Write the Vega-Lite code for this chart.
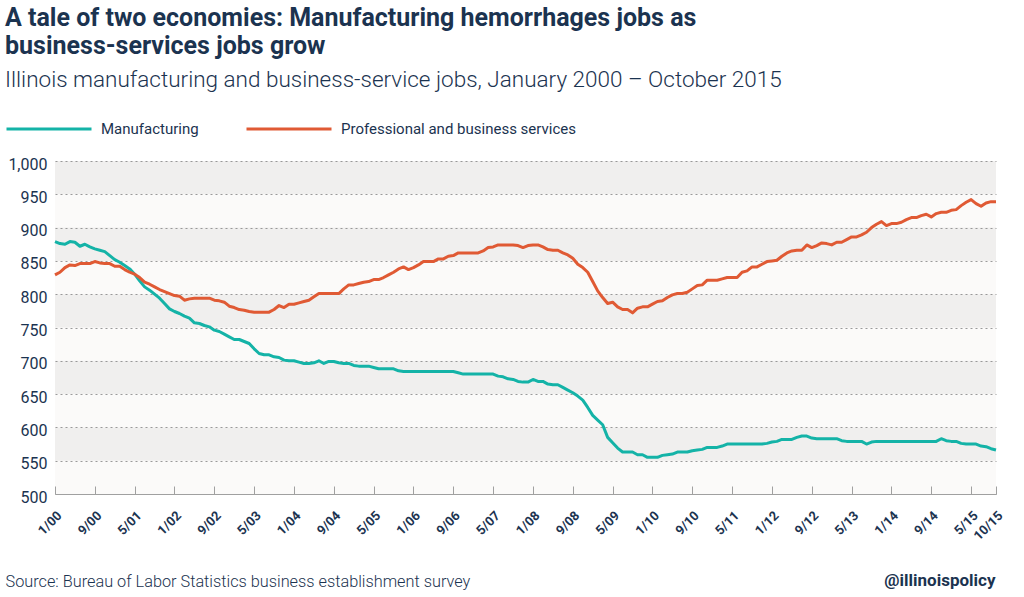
{
"$schema": "https://vega.github.io/schema/vega-lite/v6.json",
"width": 941, "height": 333,
"autosize": {"type": "none"},
"padding": {"left": 55, "top": 161, "right": 28, "bottom": 103},
"background": "#ffffff",
"config": {"view": {"stroke": null, "fill": "#fbfaf9"}, "font": "Roboto"},
"title": {
 "text": ["A tale of two economies: Manufacturing hemorrhages jobs as", "business-services jobs grow"],
 "subtitle": "Illinois manufacturing and business-service jobs, January 2000 – October 2015",
 "anchor": "start", "frame": "group", "dx": -50, "offset": -6,
 "fontSize": 25, "fontWeight": "bold", "color": "#1b3350", "lineHeight": 28,
 "subtitleFontSize": 22.5, "subtitleFontWeight": 300, "subtitleColor": "#1b3350", "subtitlePadding": 10
},
"datasets": {
 "bands": [{"b": 950, "t": 1000}, {"b": 850, "t": 900}, {"b": 750, "t": 800}, {"b": 650, "t": 700}, {"b": 550, "t": 600}],
 "jobs": [
{"m":"1/00","s":"Manufacturing","v":879},{"m":"2/00","s":"Manufacturing","v":876},{"m":"3/00","s":"Manufacturing","v":875},{"m":"4/00","s":"Manufacturing","v":879},{"m":"5/00","s":"Manufacturing","v":878},{"m":"6/00","s":"Manufacturing","v":872},{"m":"7/00","s":"Manufacturing","v":875},{"m":"8/00","s":"Manufacturing","v":871},{"m":"9/00","s":"Manufacturing","v":868},{"m":"10/00","s":"Manufacturing","v":866},{"m":"11/00","s":"Manufacturing","v":864},{"m":"12/00","s":"Manufacturing","v":858},
{"m":"1/01","s":"Manufacturing","v":852},{"m":"2/01","s":"Manufacturing","v":848},{"m":"3/01","s":"Manufacturing","v":843},{"m":"4/01","s":"Manufacturing","v":838},{"m":"5/01","s":"Manufacturing","v":830},{"m":"6/01","s":"Manufacturing","v":820},{"m":"7/01","s":"Manufacturing","v":811},{"m":"8/01","s":"Manufacturing","v":806},{"m":"9/01","s":"Manufacturing","v":800},{"m":"10/01","s":"Manufacturing","v":794},{"m":"11/01","s":"Manufacturing","v":786},{"m":"12/01","s":"Manufacturing","v":778},
{"m":"1/02","s":"Manufacturing","v":774},{"m":"2/02","s":"Manufacturing","v":771},{"m":"3/02","s":"Manufacturing","v":767},{"m":"4/02","s":"Manufacturing","v":764},{"m":"5/02","s":"Manufacturing","v":757},{"m":"6/02","s":"Manufacturing","v":756},{"m":"7/02","s":"Manufacturing","v":753},{"m":"8/02","s":"Manufacturing","v":751},{"m":"9/02","s":"Manufacturing","v":746},{"m":"10/02","s":"Manufacturing","v":744},{"m":"11/02","s":"Manufacturing","v":740},{"m":"12/02","s":"Manufacturing","v":736},
{"m":"1/03","s":"Manufacturing","v":732},{"m":"2/03","s":"Manufacturing","v":732},{"m":"3/03","s":"Manufacturing","v":729},{"m":"4/03","s":"Manufacturing","v":726},{"m":"5/03","s":"Manufacturing","v":718},{"m":"6/03","s":"Manufacturing","v":711},{"m":"7/03","s":"Manufacturing","v":709},{"m":"8/03","s":"Manufacturing","v":709},{"m":"9/03","s":"Manufacturing","v":706},{"m":"10/03","s":"Manufacturing","v":705},{"m":"11/03","s":"Manufacturing","v":701},{"m":"12/03","s":"Manufacturing","v":700},
{"m":"1/04","s":"Manufacturing","v":700},{"m":"2/04","s":"Manufacturing","v":698},{"m":"3/04","s":"Manufacturing","v":696},{"m":"4/04","s":"Manufacturing","v":696},{"m":"5/04","s":"Manufacturing","v":697},{"m":"6/04","s":"Manufacturing","v":700},{"m":"7/04","s":"Manufacturing","v":696},{"m":"8/04","s":"Manufacturing","v":699},{"m":"9/04","s":"Manufacturing","v":699},{"m":"10/04","s":"Manufacturing","v":697},{"m":"11/04","s":"Manufacturing","v":696},{"m":"12/04","s":"Manufacturing","v":696},
{"m":"1/05","s":"Manufacturing","v":693},{"m":"2/05","s":"Manufacturing","v":692},{"m":"3/05","s":"Manufacturing","v":692},{"m":"4/05","s":"Manufacturing","v":692},{"m":"5/05","s":"Manufacturing","v":690},{"m":"6/05","s":"Manufacturing","v":688},{"m":"7/05","s":"Manufacturing","v":688},{"m":"8/05","s":"Manufacturing","v":688},{"m":"9/05","s":"Manufacturing","v":688},{"m":"10/05","s":"Manufacturing","v":685},{"m":"11/05","s":"Manufacturing","v":684},{"m":"12/05","s":"Manufacturing","v":684},
{"m":"1/06","s":"Manufacturing","v":684},{"m":"2/06","s":"Manufacturing","v":684},{"m":"3/06","s":"Manufacturing","v":684},{"m":"4/06","s":"Manufacturing","v":684},{"m":"5/06","s":"Manufacturing","v":684},{"m":"6/06","s":"Manufacturing","v":684},{"m":"7/06","s":"Manufacturing","v":684},{"m":"8/06","s":"Manufacturing","v":684},{"m":"9/06","s":"Manufacturing","v":684},{"m":"10/06","s":"Manufacturing","v":682},{"m":"11/06","s":"Manufacturing","v":680},{"m":"12/06","s":"Manufacturing","v":680},
{"m":"1/07","s":"Manufacturing","v":680},{"m":"2/07","s":"Manufacturing","v":680},{"m":"3/07","s":"Manufacturing","v":680},{"m":"4/07","s":"Manufacturing","v":680},{"m":"5/07","s":"Manufacturing","v":680},{"m":"6/07","s":"Manufacturing","v":677},{"m":"7/07","s":"Manufacturing","v":676},{"m":"8/07","s":"Manufacturing","v":673},{"m":"9/07","s":"Manufacturing","v":672},{"m":"10/07","s":"Manufacturing","v":669},{"m":"11/07","s":"Manufacturing","v":668},{"m":"12/07","s":"Manufacturing","v":668},
{"m":"1/08","s":"Manufacturing","v":672},{"m":"2/08","s":"Manufacturing","v":669},{"m":"3/08","s":"Manufacturing","v":669},{"m":"4/08","s":"Manufacturing","v":665},{"m":"5/08","s":"Manufacturing","v":664},{"m":"6/08","s":"Manufacturing","v":664},{"m":"7/08","s":"Manufacturing","v":660},{"m":"8/08","s":"Manufacturing","v":656},{"m":"9/08","s":"Manufacturing","v":652},{"m":"10/08","s":"Manufacturing","v":647},{"m":"11/08","s":"Manufacturing","v":641},{"m":"12/08","s":"Manufacturing","v":630},
{"m":"1/09","s":"Manufacturing","v":618},{"m":"2/09","s":"Manufacturing","v":611},{"m":"3/09","s":"Manufacturing","v":604},{"m":"4/09","s":"Manufacturing","v":585},{"m":"5/09","s":"Manufacturing","v":577},{"m":"6/09","s":"Manufacturing","v":569},{"m":"7/09","s":"Manufacturing","v":563},{"m":"8/09","s":"Manufacturing","v":563},{"m":"9/09","s":"Manufacturing","v":563},{"m":"10/09","s":"Manufacturing","v":559},{"m":"11/09","s":"Manufacturing","v":559},{"m":"12/09","s":"Manufacturing","v":555},
{"m":"1/10","s":"Manufacturing","v":555},{"m":"2/10","s":"Manufacturing","v":555},{"m":"3/10","s":"Manufacturing","v":558},{"m":"4/10","s":"Manufacturing","v":559},{"m":"5/10","s":"Manufacturing","v":560},{"m":"6/10","s":"Manufacturing","v":563},{"m":"7/10","s":"Manufacturing","v":563},{"m":"8/10","s":"Manufacturing","v":563},{"m":"9/10","s":"Manufacturing","v":565},{"m":"10/10","s":"Manufacturing","v":566},{"m":"11/10","s":"Manufacturing","v":567},{"m":"12/10","s":"Manufacturing","v":570},
{"m":"1/11","s":"Manufacturing","v":570},{"m":"2/11","s":"Manufacturing","v":570},{"m":"3/11","s":"Manufacturing","v":572},{"m":"4/11","s":"Manufacturing","v":575},{"m":"5/11","s":"Manufacturing","v":575},{"m":"6/11","s":"Manufacturing","v":575},{"m":"7/11","s":"Manufacturing","v":575},{"m":"8/11","s":"Manufacturing","v":575},{"m":"9/11","s":"Manufacturing","v":575},{"m":"10/11","s":"Manufacturing","v":575},{"m":"11/11","s":"Manufacturing","v":575},{"m":"12/11","s":"Manufacturing","v":576},
{"m":"1/12","s":"Manufacturing","v":578},{"m":"2/12","s":"Manufacturing","v":579},{"m":"3/12","s":"Manufacturing","v":582},{"m":"4/12","s":"Manufacturing","v":582},{"m":"5/12","s":"Manufacturing","v":582},{"m":"6/12","s":"Manufacturing","v":585},{"m":"7/12","s":"Manufacturing","v":587},{"m":"8/12","s":"Manufacturing","v":587},{"m":"9/12","s":"Manufacturing","v":584},{"m":"10/12","s":"Manufacturing","v":583},{"m":"11/12","s":"Manufacturing","v":583},{"m":"12/12","s":"Manufacturing","v":583},
{"m":"1/13","s":"Manufacturing","v":583},{"m":"2/13","s":"Manufacturing","v":583},{"m":"3/13","s":"Manufacturing","v":580},{"m":"4/13","s":"Manufacturing","v":579},{"m":"5/13","s":"Manufacturing","v":579},{"m":"6/13","s":"Manufacturing","v":579},{"m":"7/13","s":"Manufacturing","v":579},{"m":"8/13","s":"Manufacturing","v":575},{"m":"9/13","s":"Manufacturing","v":578},{"m":"10/13","s":"Manufacturing","v":579},{"m":"11/13","s":"Manufacturing","v":579},{"m":"12/13","s":"Manufacturing","v":579},
{"m":"1/14","s":"Manufacturing","v":579},{"m":"2/14","s":"Manufacturing","v":579},{"m":"3/14","s":"Manufacturing","v":579},{"m":"4/14","s":"Manufacturing","v":579},{"m":"5/14","s":"Manufacturing","v":579},{"m":"6/14","s":"Manufacturing","v":579},{"m":"7/14","s":"Manufacturing","v":579},{"m":"8/14","s":"Manufacturing","v":579},{"m":"9/14","s":"Manufacturing","v":579},{"m":"10/14","s":"Manufacturing","v":579},{"m":"11/14","s":"Manufacturing","v":583},{"m":"12/14","s":"Manufacturing","v":580},
{"m":"1/15","s":"Manufacturing","v":579},{"m":"2/15","s":"Manufacturing","v":579},{"m":"3/15","s":"Manufacturing","v":576},{"m":"4/15","s":"Manufacturing","v":575},{"m":"5/15","s":"Manufacturing","v":575},{"m":"6/15","s":"Manufacturing","v":575},{"m":"7/15","s":"Manufacturing","v":572},{"m":"8/15","s":"Manufacturing","v":571},{"m":"9/15","s":"Manufacturing","v":568},{"m":"10/15","s":"Manufacturing","v":566},
{"m":"1/00","s":"Professional and business services","v":829},{"m":"2/00","s":"Professional and business services","v":833},{"m":"3/00","s":"Professional and business services","v":840},{"m":"4/00","s":"Professional and business services","v":844},{"m":"5/00","s":"Professional and business services","v":843},{"m":"6/00","s":"Professional and business services","v":846},{"m":"7/00","s":"Professional and business services","v":846},{"m":"8/00","s":"Professional and business services","v":846},{"m":"9/00","s":"Professional and business services","v":849},{"m":"10/00","s":"Professional and business services","v":847},{"m":"11/00","s":"Professional and business services","v":846},{"m":"12/00","s":"Professional and business services","v":846},
{"m":"1/01","s":"Professional and business services","v":842},{"m":"2/01","s":"Professional and business services","v":842},{"m":"3/01","s":"Professional and business services","v":837},{"m":"4/01","s":"Professional and business services","v":833},{"m":"5/01","s":"Professional and business services","v":830},{"m":"6/01","s":"Professional and business services","v":825},{"m":"7/01","s":"Professional and business services","v":818},{"m":"8/01","s":"Professional and business services","v":815},{"m":"9/01","s":"Professional and business services","v":811},{"m":"10/01","s":"Professional and business services","v":807},{"m":"11/01","s":"Professional and business services","v":804},{"m":"12/01","s":"Professional and business services","v":801},
{"m":"1/02","s":"Professional and business services","v":798},{"m":"2/02","s":"Professional and business services","v":797},{"m":"3/02","s":"Professional and business services","v":791},{"m":"4/02","s":"Professional and business services","v":793},{"m":"5/02","s":"Professional and business services","v":794},{"m":"6/02","s":"Professional and business services","v":794},{"m":"7/02","s":"Professional and business services","v":794},{"m":"8/02","s":"Professional and business services","v":794},{"m":"9/02","s":"Professional and business services","v":791},{"m":"10/02","s":"Professional and business services","v":790},{"m":"11/02","s":"Professional and business services","v":788},{"m":"12/02","s":"Professional and business services","v":782},
{"m":"1/03","s":"Professional and business services","v":780},{"m":"2/03","s":"Professional and business services","v":777},{"m":"3/03","s":"Professional and business services","v":776},{"m":"4/03","s":"Professional and business services","v":774},{"m":"5/03","s":"Professional and business services","v":773},{"m":"6/03","s":"Professional and business services","v":773},{"m":"7/03","s":"Professional and business services","v":773},{"m":"8/03","s":"Professional and business services","v":773},{"m":"9/03","s":"Professional and business services","v":777},{"m":"10/03","s":"Professional and business services","v":783},{"m":"11/03","s":"Professional and business services","v":780},{"m":"12/03","s":"Professional and business services","v":785},
{"m":"1/04","s":"Professional and business services","v":785},{"m":"2/04","s":"Professional and business services","v":787},{"m":"3/04","s":"Professional and business services","v":789},{"m":"4/04","s":"Professional and business services","v":791},{"m":"5/04","s":"Professional and business services","v":796},{"m":"6/04","s":"Professional and business services","v":801},{"m":"7/04","s":"Professional and business services","v":801},{"m":"8/04","s":"Professional and business services","v":801},{"m":"9/04","s":"Professional and business services","v":801},{"m":"10/04","s":"Professional and business services","v":801},{"m":"11/04","s":"Professional and business services","v":808},{"m":"12/04","s":"Professional and business services","v":814},
{"m":"1/05","s":"Professional and business services","v":814},{"m":"2/05","s":"Professional and business services","v":816},{"m":"3/05","s":"Professional and business services","v":818},{"m":"4/05","s":"Professional and business services","v":819},{"m":"5/05","s":"Professional and business services","v":822},{"m":"6/05","s":"Professional and business services","v":822},{"m":"7/05","s":"Professional and business services","v":825},{"m":"8/05","s":"Professional and business services","v":829},{"m":"9/05","s":"Professional and business services","v":833},{"m":"10/05","s":"Professional and business services","v":838},{"m":"11/05","s":"Professional and business services","v":841},{"m":"12/05","s":"Professional and business services","v":837},
{"m":"1/06","s":"Professional and business services","v":840},{"m":"2/06","s":"Professional and business services","v":844},{"m":"3/06","s":"Professional and business services","v":849},{"m":"4/06","s":"Professional and business services","v":849},{"m":"5/06","s":"Professional and business services","v":849},{"m":"6/06","s":"Professional and business services","v":853},{"m":"7/06","s":"Professional and business services","v":853},{"m":"8/06","s":"Professional and business services","v":857},{"m":"9/06","s":"Professional and business services","v":858},{"m":"10/06","s":"Professional and business services","v":862},{"m":"11/06","s":"Professional and business services","v":862},{"m":"12/06","s":"Professional and business services","v":862},
{"m":"1/07","s":"Professional and business services","v":862},{"m":"2/07","s":"Professional and business services","v":862},{"m":"3/07","s":"Professional and business services","v":865},{"m":"4/07","s":"Professional and business services","v":870},{"m":"5/07","s":"Professional and business services","v":871},{"m":"6/07","s":"Professional and business services","v":874},{"m":"7/07","s":"Professional and business services","v":874},{"m":"8/07","s":"Professional and business services","v":874},{"m":"9/07","s":"Professional and business services","v":874},{"m":"10/07","s":"Professional and business services","v":873},{"m":"11/07","s":"Professional and business services","v":870},{"m":"12/07","s":"Professional and business services","v":873},
{"m":"1/08","s":"Professional and business services","v":874},{"m":"2/08","s":"Professional and business services","v":874},{"m":"3/08","s":"Professional and business services","v":871},{"m":"4/08","s":"Professional and business services","v":867},{"m":"5/08","s":"Professional and business services","v":866},{"m":"6/08","s":"Professional and business services","v":866},{"m":"7/08","s":"Professional and business services","v":862},{"m":"8/08","s":"Professional and business services","v":859},{"m":"9/08","s":"Professional and business services","v":854},{"m":"10/08","s":"Professional and business services","v":845},{"m":"11/08","s":"Professional and business services","v":840},{"m":"12/08","s":"Professional and business services","v":833},
{"m":"1/09","s":"Professional and business services","v":819},{"m":"2/09","s":"Professional and business services","v":805},{"m":"3/09","s":"Professional and business services","v":795},{"m":"4/09","s":"Professional and business services","v":786},{"m":"5/09","s":"Professional and business services","v":788},{"m":"6/09","s":"Professional and business services","v":781},{"m":"7/09","s":"Professional and business services","v":777},{"m":"8/09","s":"Professional and business services","v":777},{"m":"9/09","s":"Professional and business services","v":772},{"m":"10/09","s":"Professional and business services","v":779},{"m":"11/09","s":"Professional and business services","v":781},{"m":"12/09","s":"Professional and business services","v":781},
{"m":"1/10","s":"Professional and business services","v":785},{"m":"2/10","s":"Professional and business services","v":789},{"m":"3/10","s":"Professional and business services","v":790},{"m":"4/10","s":"Professional and business services","v":795},{"m":"5/10","s":"Professional and business services","v":799},{"m":"6/10","s":"Professional and business services","v":801},{"m":"7/10","s":"Professional and business services","v":801},{"m":"8/10","s":"Professional and business services","v":803},{"m":"9/10","s":"Professional and business services","v":808},{"m":"10/10","s":"Professional and business services","v":813},{"m":"11/10","s":"Professional and business services","v":814},{"m":"12/10","s":"Professional and business services","v":821},
{"m":"1/11","s":"Professional and business services","v":821},{"m":"2/11","s":"Professional and business services","v":821},{"m":"3/11","s":"Professional and business services","v":823},{"m":"4/11","s":"Professional and business services","v":825},{"m":"5/11","s":"Professional and business services","v":825},{"m":"6/11","s":"Professional and business services","v":825},{"m":"7/11","s":"Professional and business services","v":833},{"m":"8/11","s":"Professional and business services","v":835},{"m":"9/11","s":"Professional and business services","v":841},{"m":"10/11","s":"Professional and business services","v":841},{"m":"11/11","s":"Professional and business services","v":845},{"m":"12/11","s":"Professional and business services","v":849},
{"m":"1/12","s":"Professional and business services","v":850},{"m":"2/12","s":"Professional and business services","v":851},{"m":"3/12","s":"Professional and business services","v":857},{"m":"4/12","s":"Professional and business services","v":862},{"m":"5/12","s":"Professional and business services","v":865},{"m":"6/12","s":"Professional and business services","v":866},{"m":"7/12","s":"Professional and business services","v":866},{"m":"8/12","s":"Professional and business services","v":874},{"m":"9/12","s":"Professional and business services","v":870},{"m":"10/12","s":"Professional and business services","v":873},{"m":"11/12","s":"Professional and business services","v":877},{"m":"12/12","s":"Professional and business services","v":876},
{"m":"1/13","s":"Professional and business services","v":874},{"m":"2/13","s":"Professional and business services","v":878},{"m":"3/13","s":"Professional and business services","v":878},{"m":"4/13","s":"Professional and business services","v":882},{"m":"5/13","s":"Professional and business services","v":886},{"m":"6/13","s":"Professional and business services","v":886},{"m":"7/13","s":"Professional and business services","v":889},{"m":"8/13","s":"Professional and business services","v":893},{"m":"9/13","s":"Professional and business services","v":900},{"m":"10/13","s":"Professional and business services","v":905},{"m":"11/13","s":"Professional and business services","v":909},{"m":"12/13","s":"Professional and business services","v":903},
{"m":"1/14","s":"Professional and business services","v":906},{"m":"2/14","s":"Professional and business services","v":906},{"m":"3/14","s":"Professional and business services","v":908},{"m":"4/14","s":"Professional and business services","v":912},{"m":"5/14","s":"Professional and business services","v":915},{"m":"6/14","s":"Professional and business services","v":915},{"m":"7/14","s":"Professional and business services","v":918},{"m":"8/14","s":"Professional and business services","v":920},{"m":"9/14","s":"Professional and business services","v":916},{"m":"10/14","s":"Professional and business services","v":921},{"m":"11/14","s":"Professional and business services","v":923},{"m":"12/14","s":"Professional and business services","v":923},
{"m":"1/15","s":"Professional and business services","v":926},{"m":"2/15","s":"Professional and business services","v":927},{"m":"3/15","s":"Professional and business services","v":933},{"m":"4/15","s":"Professional and business services","v":938},{"m":"5/15","s":"Professional and business services","v":942},{"m":"6/15","s":"Professional and business services","v":936},{"m":"7/15","s":"Professional and business services","v":932},{"m":"8/15","s":"Professional and business services","v":937},{"m":"9/15","s":"Professional and business services","v":939},{"m":"10/15","s":"Professional and business services","v":939}
 ]
},
"layer": [
 {
  "data": {"name": "bands"},
  "mark": {"type": "rect", "fill": "#808080", "opacity": 0.09},
  "encoding": {
   "y": {"field": "b", "type": "quantitative", "scale": {"domain": [500, 1000], "nice": false, "zero": false},
    "axis": {
     "values": [500,550,600,650,700,750,800,850,900,950,1000],
     "labelExpr": "format(datum.value, ',')", "domain": false, "ticks": false,
     "labelFontSize": 16, "labelColor": "#1b3350", "labelPadding": 8, "labelOffset": 3,
     "gridColor": "#9a9a9a", "gridDash": [2, 3], "gridWidth": 1,
     "title": "@illinoispolicy", "titleAngle": 0, "titleX": 940, "titleY": 424,
     "titleAlign": "right", "titleBaseline": "alphabetic",
     "titleFontSize": 17, "titleFontWeight": "bold", "titleColor": "#1b3350"
    }
   },
   "y2": {"field": "t"}
  }
 },
 {
  "data": {"name": "jobs"},
  "mark": {"type": "line", "strokeWidth": 3, "strokeJoin": "round"},
  "encoding": {
   "x": {"field": "m", "type": "ordinal", "sort": null,
    "scale": {"type": "point", "padding": 0},
    "axis": {
     "values": ["1/00","9/00","5/01","1/02","9/02","5/03","1/04","9/04","5/05","1/06","9/06","5/07","1/08","9/08","5/09","1/10","9/10","5/11","1/12","9/12","5/13","1/14","9/14","5/15","10/15"],
     "labelAngle": -45, "labelFontSize": 13, "labelFontWeight": "bold", "labelColor": "#1b3350",
     "labelPadding": 23, "tickColor": "#a0a0a0", "tickSize": -8, "domainColor": "#a0a0a0", "grid": false,
     "title": "Source: Bureau of Labor Statistics business establishment survey",
     "titleX": -50, "titleY": 92, "titleAlign": "left", "titleAnchor": "start", "titleBaseline": "alphabetic",
     "titleFontSize": 16.3, "titleFontWeight": 300, "titleColor": "#1b3350"
    }
   },
   "y": {"field": "v", "type": "quantitative",
    "scale": {"domain": [500, 1000], "nice": false, "zero": false},
    "axis": {
     "values": [500,550,600,650,700,750,800,850,900,950,1000],
     "labelExpr": "format(datum.value, ',')", "domain": false, "ticks": false,
     "labelFontSize": 16, "labelColor": "#1b3350", "labelPadding": 8, "labelOffset": 3,
     "gridColor": "#9a9a9a", "gridDash": [2, 3], "gridWidth": 1,
     "title": "@illinoispolicy", "titleAngle": 0, "titleX": 940, "titleY": 424,
     "titleAlign": "right", "titleBaseline": "alphabetic",
     "titleFontSize": 17, "titleFontWeight": "bold", "titleColor": "#1b3350"
    }
   },
   "color": {"field": "s", "type": "nominal",
    "scale": {"domain": ["Manufacturing", "Professional and business services"], "range": ["#14b3a7", "#e05a34"]},
    "legend": {
     "orient": "none", "legendX": -50, "legendY": -76, "direction": "horizontal", "title": null,
     "symbolType": "stroke", "symbolSize": 7225, "symbolStrokeWidth": 3, "labelLimit": 400,
     "labelFontSize": 15, "labelColor": "#1b3350", "labelOffset": 8, "columnPadding": 41
    }
   }
  }
 }
]
}
